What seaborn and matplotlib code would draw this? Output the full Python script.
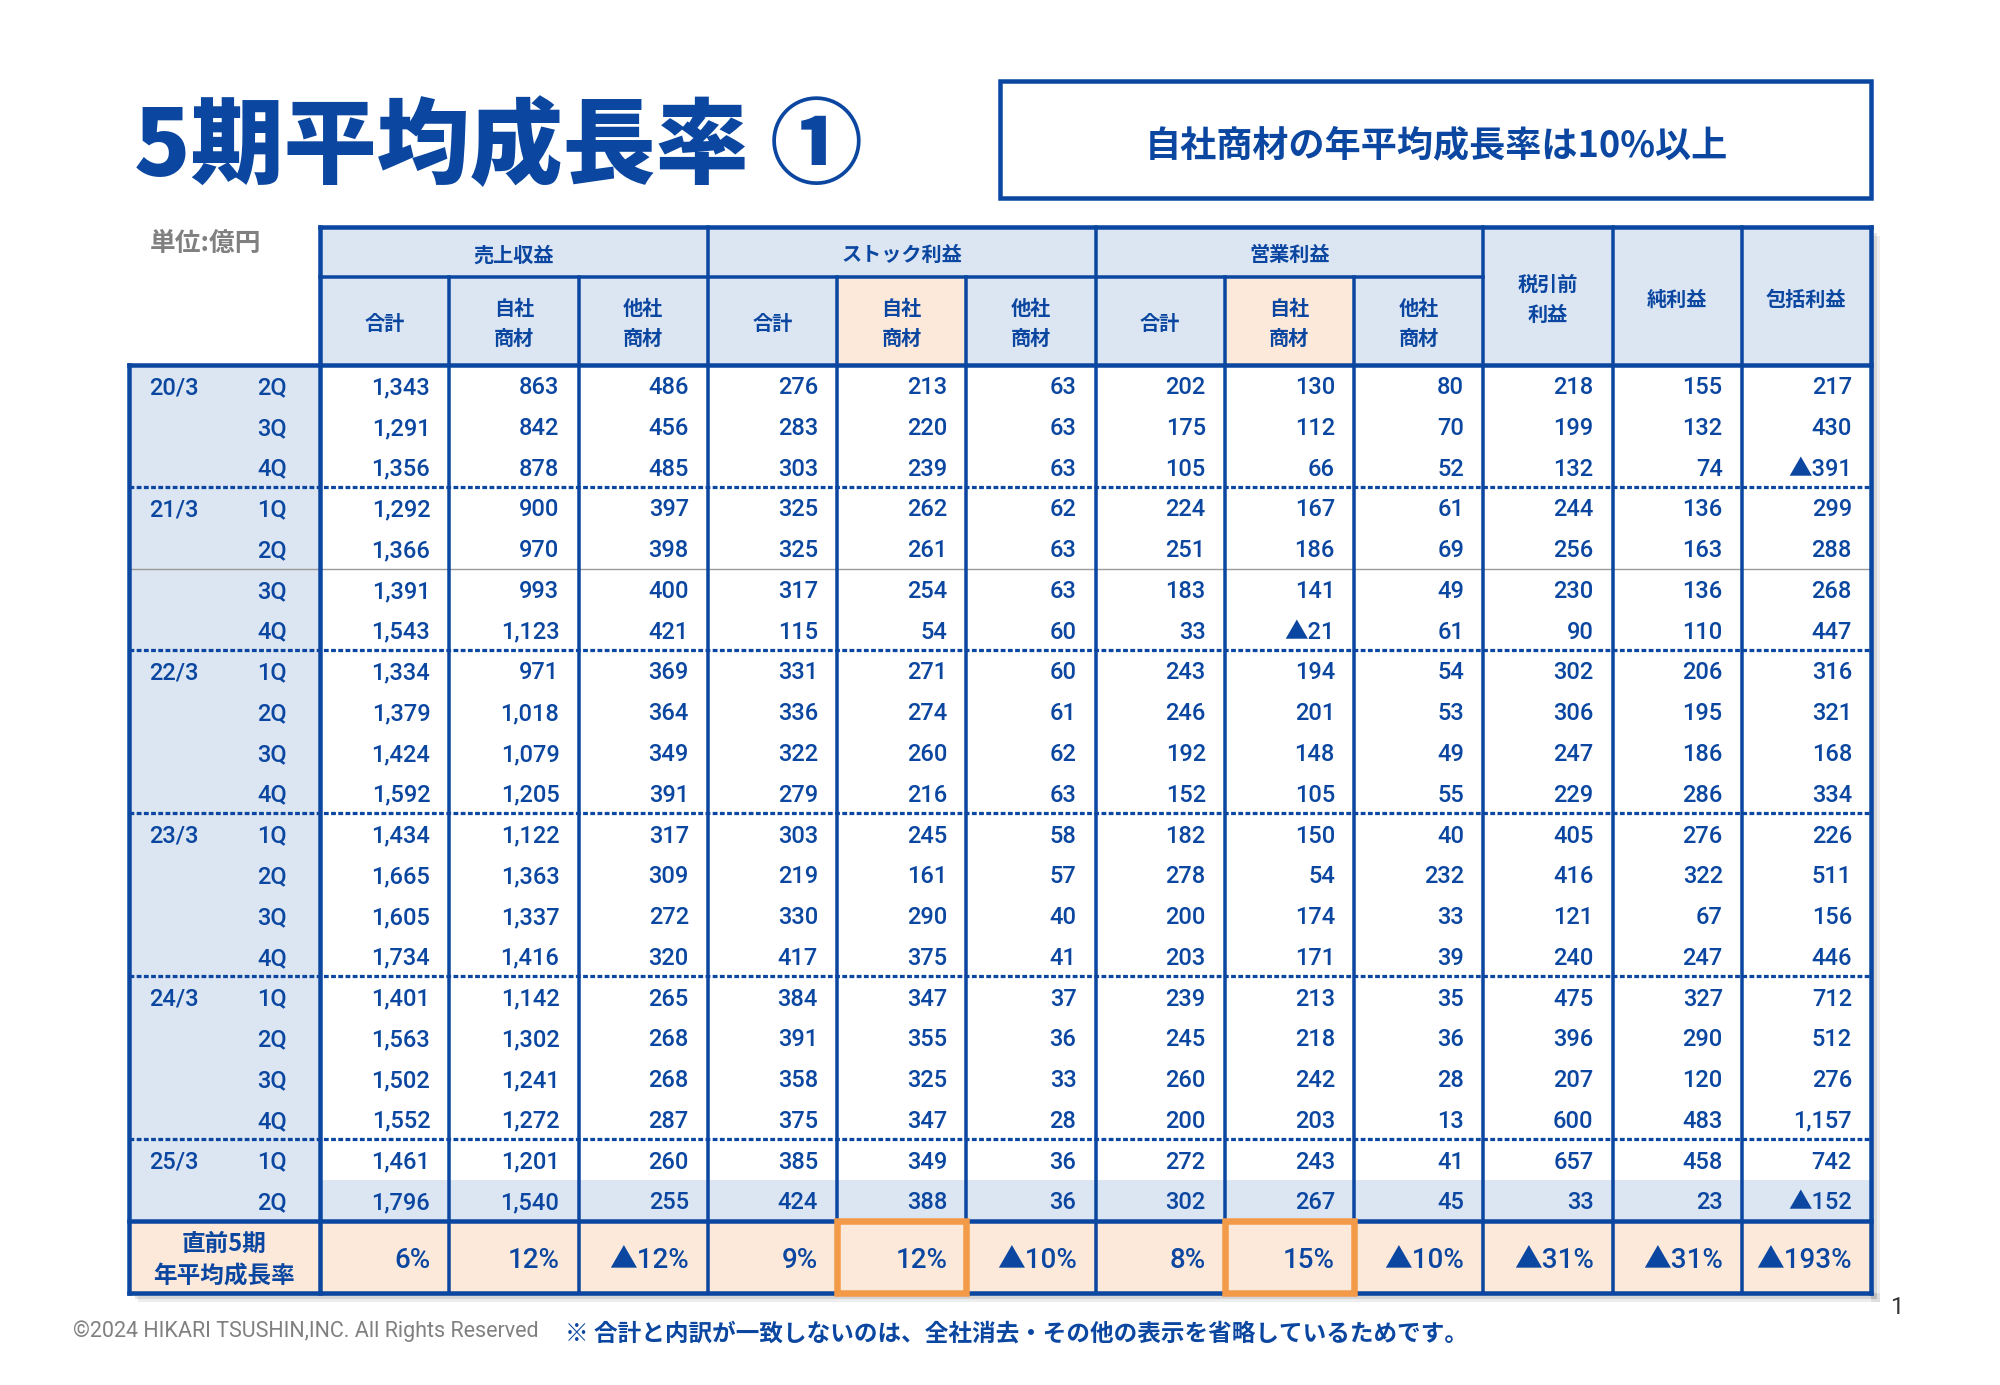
import numpy as np
import pandas as pd
import matplotlib
matplotlib.use("Agg")
import matplotlib.pyplot as plt
import seaborn as sns
from matplotlib.patches import Rectangle
from matplotlib.colors import ListedColormap

# ---------------- data ----------------
year_labels = ["20/3", "21/3", "22/3", "23/3", "24/3", "25/3"]
year_quarters = [["2Q", "3Q", "4Q"],
                 ["1Q", "2Q", "3Q", "4Q"],
                 ["1Q", "2Q", "3Q", "4Q"],
                 ["1Q", "2Q", "3Q", "4Q"],
                 ["1Q", "2Q", "3Q", "4Q"],
                 ["1Q", "2Q"]]

group_headers = ["売上収益", "ストック利益", "営業利益"]
sub_headers = ["合計", "自社\n商材", "他社\n商材"]
single_headers = ["税引前\n利益", "純利益", "包括利益"]

revenue_total = [1343, 1291, 1356, 1292, 1366, 1391, 1543, 1334, 1379, 1424, 1592,
                 1434, 1665, 1605, 1734, 1401, 1563, 1502, 1552, 1461, 1796]
revenue_own = [863, 842, 878, 900, 970, 993, 1123, 971, 1018, 1079, 1205,
               1122, 1363, 1337, 1416, 1142, 1302, 1241, 1272, 1201, 1540]
revenue_other = [486, 456, 485, 397, 398, 400, 421, 369, 364, 349, 391,
                 317, 309, 272, 320, 265, 268, 268, 287, 260, 255]
stock_total = [276, 283, 303, 325, 325, 317, 115, 331, 336, 322, 279,
               303, 219, 330, 417, 384, 391, 358, 375, 385, 424]
stock_own = [213, 220, 239, 262, 261, 254, 54, 271, 274, 260, 216,
             245, 161, 290, 375, 347, 355, 325, 347, 349, 388]
stock_other = [63, 63, 63, 62, 63, 63, 60, 60, 61, 62, 63,
               58, 57, 40, 41, 37, 36, 33, 28, 36, 36]
op_total = [202, 175, 105, 224, 251, 183, 33, 243, 246, 192, 152,
            182, 278, 200, 203, 239, 245, 260, 200, 272, 302]
op_own = [130, 112, 66, 167, 186, 141, -21, 194, 201, 148, 105,
          150, 54, 174, 171, 213, 218, 242, 203, 243, 267]
op_other = [80, 70, 52, 61, 69, 49, 61, 54, 53, 49, 55,
            40, 232, 33, 39, 35, 36, 28, 13, 41, 45]
pretax_profit = [218, 199, 132, 244, 256, 230, 90, 302, 306, 247, 229,
                 405, 416, 121, 240, 475, 396, 207, 600, 657, 33]
net_profit = [155, 132, 74, 136, 163, 136, 110, 206, 195, 186, 286,
              276, 322, 67, 247, 327, 290, 120, 483, 458, 23]
comprehensive_profit = [217, 430, -391, 299, 288, 268, 447, 316, 321, 168, 334,
                        226, 511, 156, 446, 712, 512, 276, 1157, 742, -152]
growth_rate_pct = [6, 12, -12, 9, 12, -10, 8, 15, -10, -31, -31, -193]
highlight_cols = [4, 7]

title = "5期平均成長率 ①"
subtitle = "自社商材の年平均成長率は10%以上"
unit_label = "単位:億円"
growth_label = ["直前5期", "年平均成長率"]
footer_copy = "©2024 HIKARI TSUSHIN,INC. All Rights Reserved"
footer_note = "※ 合計と内訳が一致しないのは、全社消去・その他の表示を省略しているためです。"
page_no = "1"

columns = [revenue_total, revenue_own, revenue_other,
           stock_total, stock_own, stock_other,
           op_total, op_own, op_other,
           pretax_profit, net_profit, comprehensive_profit]
values = pd.DataFrame(np.column_stack(columns))


def fmt(v, suffix=""):
    s = f"{abs(v):,}{suffix}"
    return ("▲" + s) if v < 0 else s


# ---------------- style ----------------
sns.set_theme(style="white")
plt.rcParams["font.family"] = ["Noto Sans CJK JP", "DejaVu Sans"]
NUM = ["Roboto", "Noto Sans CJK JP", "DejaVu Sans"]
CJK = ["Noto Sans CJK JP", "DejaVu Sans"]

BLUE = "#0B47A0"
LBLUE = "#DCE5F2"
PEACH = "#FDE9DA"
ORANGE = "#F39A48"
GRAY = "#808080"

W, H, DPI = 2000, 1385, 100
fig = plt.figure(figsize=(W / DPI, H / DPI), dpi=DPI)
fig.patch.set_facecolor("white")


def px2pt(p):
    return p * 72.0 / DPI


# table frame in pixels
TL, TX0, TR = 128.5, 320.0, 1871.0
TT, H1, H2, GT, TB = 227.0, 276.5, 364.8, 1220.7, 1293.0
nrow, ncol = len(revenue_total), len(columns)
cw = (TR - TX0) / ncol
rh = (GT - H2) / nrow
LWc = (TX0 - TL) / cw
y_top = -(H2 - TT) / rh
y_h1 = -(H2 - H1) / rh
GH = (TB - GT) / rh
y_bot = nrow + GH
DY = 2.5 / rh   # text vertical nudge (va=center sits slightly high)

# shadow
for k, a in [(9, 0.15), (6, 0.22), (3, 0.3)]:
    fig.add_artist(Rectangle((TR / W, 1 - (TB + k) / H), k / W, (TB - TT) / H,
                             transform=fig.transFigure, fc="#888888", ec="none",
                             alpha=a, zorder=0))
    fig.add_artist(Rectangle((TL / W + k / W, 1 - (TB + k) / H), (TR - TL) / W, k / H,
                             transform=fig.transFigure, fc="#888888", ec="none",
                             alpha=a, zorder=0))

ax = fig.add_axes([TL / W, 1 - TB / H, (TR - TL) / W, (TB - TT) / H])
ax.set_zorder(2)

codes = np.zeros((nrow, ncol))
codes[-1, :] = 1
sns.heatmap(pd.DataFrame(codes), ax=ax, cmap=ListedColormap(["#FFFFFF", LBLUE]),
            vmin=0, vmax=1, cbar=False, xticklabels=False, yticklabels=False,
            linewidths=0)
ax.set_xlim(-LWc, ncol)
ax.set_ylim(y_bot, y_top)
ax.set_axis_off()

# backgrounds
ax.add_patch(Rectangle((-LWc, 0), LWc, nrow, fc=LBLUE, ec="none", zorder=1))
ax.add_patch(Rectangle((-LWc, nrow), LWc + ncol, GH, fc=PEACH, ec="none", zorder=1))
ax.add_patch(Rectangle((0, y_top), ncol, -y_top, fc=LBLUE, ec="none", zorder=1))
for c in highlight_cols:
    ax.add_patch(Rectangle((c, y_h1), 1, -y_h1, fc=PEACH, ec="none", zorder=1))


def line(x0, x1, y0, y1, lw, color=BLUE, ls="-", z=4):
    ax.plot([x0, x1], [y0, y1], color=color, lw=lw, ls=ls, clip_on=False,
            solid_capstyle="projecting", zorder=z)


LW_OUT = px2pt(4.5)
LW_IN = px2pt(3.5)

# thin gray separator
line(-LWc, ncol, 5, 5, 1.0, color="#9a9a9a", z=2)
# dotted year separators
bounds = np.cumsum([len(q) for q in year_quarters])[:-1]
for b in bounds:
    ax.plot([-LWc, ncol], [b, b], color=BLUE, lw=px2pt(3.2), ls=(0, (1.5, 0.75)),
            clip_on=False, zorder=3, dash_capstyle="butt")

# verticals
for c in range(1, ncol):
    y0 = y_top if c >= 9 or c % 3 == 0 else y_h1
    line(c, c, y0, y_bot, LW_IN)
line(0, 0, y_top, y_bot, LW_OUT)
line(ncol, ncol, y_top, y_bot, LW_OUT)
line(-LWc, -LWc, 0, y_bot, LW_OUT)
# horizontals
line(0, ncol, y_top, y_top, LW_OUT)
line(0, 9, y_h1, y_h1, LW_IN)
line(-LWc, ncol, 0, 0, LW_OUT)
line(-LWc, ncol, nrow, nrow, LW_OUT)
line(-LWc, ncol, y_bot, y_bot, LW_OUT)

# orange highlight boxes
for c in highlight_cols:
    ax.add_patch(Rectangle((c, nrow), 1, GH, fill=False, ec=ORANGE,
                           lw=px2pt(6.5), zorder=6, clip_on=False))

# ---------------- texts ----------------
HDR_FS = 14.5
HDY = 3.0 / rh
for g, name in enumerate(group_headers):
    ax.text(3 * g + 1.5, y_top / 2 + y_h1 / 2 + HDY, name, ha="center", va="center",
            fontsize=HDR_FS, weight="bold", color=BLUE, family=CJK, zorder=7)
    for s, sub in enumerate(sub_headers):
        parts = sub.split("\n")
        cx = 3 * g + s + 0.5
        cy = y_h1 / 2 + HDY
        if len(parts) == 1:
            ax.text(cx, cy, parts[0], ha="center", va="center", fontsize=HDR_FS,
                    weight="bold", color=BLUE, family=CJK, zorder=7)
        else:
            d = 15.0 / rh
            for k, p in enumerate(parts):
                ax.text(cx, cy + (k - 0.5) * 2 * d, p, ha="center", va="center",
                        fontsize=HDR_FS, weight="bold", color=BLUE, family=CJK, zorder=7)
for k, name in enumerate(single_headers):
    parts = name.split("\n")
    cx = 9 + k + 0.5
    cy = y_top / 2 + 3.5 / rh
    d = 15.0 / rh
    for i, p in enumerate(parts):
        off = (i - (len(parts) - 1) / 2) * 2 * d
        ax.text(cx, cy + off, p, ha="center", va="center", fontsize=HDR_FS,
                weight="bold", color=BLUE, family=CJK, zorder=7)

# row labels
VAL_FS = 17
pad = 19.0 / cw
row = 0
for y, qs in zip(year_labels, year_quarters):
    ax.text((149 - TX0) / cw, row + 0.5 + DY, y, ha="left", va="center",
            fontsize=VAL_FS, weight="medium", color=BLUE, family=NUM, zorder=7)
    for q in qs:
        ax.text((287 - TX0) / cw, row + 0.5 + DY, q, ha="right", va="center",
                fontsize=VAL_FS, weight="medium", color=BLUE, family=NUM, zorder=7)
        row += 1

# values
for i in range(nrow):
    for j in range(ncol):
        ax.text(j + 1 - pad, i + 0.5 + DY, fmt(int(values.iat[i, j])), ha="right",
                va="center", fontsize=VAL_FS, weight="medium", color=BLUE,
                family=NUM, zorder=7)

# growth row
gy = nrow + GH / 2
for k, p in enumerate(growth_label):
    ax.text(-LWc / 2, gy + 3.5 / rh + (k - 0.5) * 32.0 / rh, p, ha="center",
            va="center", fontsize=17, weight="bold", color=BLUE, family=CJK, zorder=7)
for j, v in enumerate(growth_rate_pct):
    ax.text(j + 1 - pad, gy + 4.0 / rh, fmt(v, "%"), ha="right", va="center",
            fontsize=20, weight="medium", color=BLUE, family=NUM, zorder=7)

# ---------------- page texts ----------------
def fx(p):
    return p / W


def fy(p):
    return 1 - p / H


fig.text(fx(134), fy(148), title, ha="left", va="center", fontsize=67,
         weight="heavy", color=BLUE, family=CJK)
fig.add_artist(Rectangle((fx(1000), fy(198)), (1871 - 1000) / W, (198 - 81) / H,
                         transform=fig.transFigure, fill=False, ec=BLUE,
                         lw=px2pt(4.5), zorder=3))
fig.text(fx(1436), fy(146), subtitle, ha="center", va="center", fontsize=26,
         weight="bold", color=BLUE, family=CJK)
fig.text(fx(150), fy(243), unit_label, ha="left", va="center", fontsize=18.5,
         weight="bold", color=GRAY, family=CJK)
fig.text(fx(73), fy(1331), footer_copy, ha="left", va="center", fontsize=15.5,
         color=GRAY, family=["Roboto", "DejaVu Sans"])
fig.text(fx(565), fy(1334), footer_note, ha="left", va="center", fontsize=17,
         weight="bold", color=BLUE, family=CJK)
fig.text(fx(1897), fy(1307), page_no, ha="center", va="center", fontsize=17,
         color="#333333", family=["Roboto", "DejaVu Sans"])

fig.savefig("out.png", dpi=DPI, facecolor="white")
